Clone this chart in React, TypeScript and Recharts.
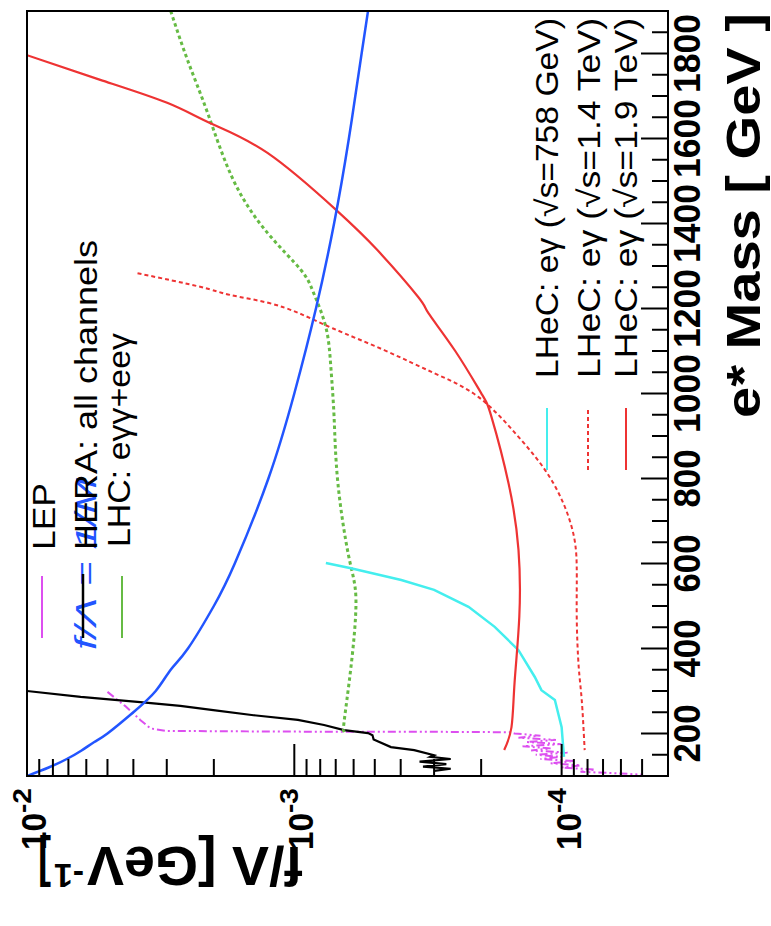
import React from 'react'
import { ScatterChart, Scatter, XAxis, YAxis } from 'recharts'

// values: e* mass [GeV] against the f/Λ limit [GeV^-1]
const lepMass = [298, 265, 232, 212, 206, 205, 204, 204, 203, 200, 195, 190, 185, 180, 175, 170, 165, 160, 155, 150, 145, 140, 135, 130, 125, 120, 115, 110, 106, 103]
const lepF = [5.0e-3, 4.3e-3, 3.77e-3, 3.45e-3, 3.0e-3, 1.5e-3, 7.0e-4, 3.0e-4, 1.55e-4, 1.5e-4, 1.2e-4, 1.45e-4, 1.05e-4, 1.35e-4, 1.0e-4, 1.4e-4, 1.1e-4, 1.3e-4, 9.5e-5, 1.25e-4, 1.0e-4, 1.2e-4, 9.0e-5, 1.1e-4, 8.5e-5, 1.0e-4, 7.5e-5, 8.5e-5, 6.0e-5, 5.0e-5]

const heraMass = [300, 286, 274, 265, 255, 243, 232, 220, 208, 201, 196, 186, 168, 161, 149, 145, 140, 134, 128, 122, 117, 112]
const heraF = [1.0e-2, 6.3e-3, 3.77e-3, 2.67e-3, 2.01e-3, 1.42e-3, 9.7e-4, 7.74e-4, 6.52e-4, 5.3e-4, 5.1e-4, 5.05e-4, 4.35e-4, 3.56e-4, 3.0e-4, 3.1e-4, 2.6e-4, 3.4e-4, 2.7e-4, 3.3e-4, 2.6e-4, 3.0e-4]

const oneOverMMass = [100, 120, 140, 160, 180, 200, 250, 300, 350, 400, 500, 600, 800, 1000, 1200, 1400, 1600, 1800, 1900]
const oneOverMF = [1.0e-2, 8.3e-3, 7.1e-3, 6.25e-3, 5.6e-3, 5.0e-3, 4.0e-3, 3.3e-3, 2.9e-3, 2.5e-3, 2.0e-3, 1.67e-3, 1.25e-3, 1.0e-3, 8.3e-4, 7.1e-4, 6.25e-4, 5.6e-4, 5.3e-4]

const lhcMass = [1900, 1785, 1660, 1502, 1378, 1291, 1236, 1156, 1062, 945, 789, 615, 514, 356, 225, 208]
const lhcF = [2.9e-3, 2.51e-3, 2.11e-3, 1.69e-3, 1.26e-3, 9.46e-4, 8.46e-4, 7.62e-4, 7.3e-4, 7.1e-4, 6.87e-4, 6.25e-4, 5.88e-4, 6.14e-4, 6.52e-4, 6.5e-4]

const lhec758Mass = [601, 589, 561, 538, 498, 451, 396, 333, 302, 279, 215, 145]
const lhec758F = [7.62e-4, 6.14e-4, 3.98e-4, 3.0e-4, 2.23e-4, 1.78e-4, 1.45e-4, 1.26e-4, 1.19e-4, 1.06e-4, 1.0e-4, 9.8e-5]

const lhec14Mass = [1283, 1251, 1232, 1214, 1188, 1153, 1102, 1048, 992, 898, 796, 686, 592, 474, 356, 279, 161]
const lhec14F = [3.86e-3, 2.25e-3, 1.74e-3, 1.265e-3, 9.53e-4, 7.16e-4, 4.61e-4, 3.0e-4, 2.05e-4, 1.45e-4, 1.09e-4, 9.17e-5, 8.78e-5, 8.78e-5, 8.63e-5, 8.41e-5, 8.2e-5]

const lhec19Mass = [1796, 1738, 1684, 1636, 1566, 1432, 1338, 1227, 1189, 1100, 1001, 945, 789, 632, 474, 319, 215, 161]
const lhec19F = [1.0e-2, 5.32e-3, 2.99e-3, 2.06e-3, 1.26e-3, 6.98e-4, 4.9e-4, 3.44e-4, 3.15e-4, 2.5e-4, 2.0e-4, 1.83e-4, 1.58e-4, 1.45e-4, 1.44e-4, 1.5e-4, 1.54e-4, 1.64e-4]

const massTicks = [150, 200, 250, 300, 350, 400, 450, 500, 550, 600, 650, 700, 750, 800, 850, 900, 950, 1000, 1050, 1100, 1150, 1200, 1250, 1300, 1350, 1400, 1450, 1500, 1550, 1600, 1650, 1700, 1750, 1800, 1850]
const fTicks = [1e-2, 9e-3, 8e-3, 7e-3, 6e-3, 5e-3, 4e-3, 3e-3, 2e-3, 1e-3, 9e-4, 8e-4, 7e-4, 6e-4, 5e-4, 4e-4, 3e-4, 2e-4, 1e-4, 9e-5, 8e-5, 7e-5, 6e-5, 5e-5]

// chart is drawn in its own (unrotated) frame, then turned a quarter left
const W = 926
const H = 771
const PLOT = { left: 150, right: 915, top: 27, bottom: 668 }
const FONT = '"Liberation Sans", Arial, Helvetica, sans-serif'

const COL = {
  lep: '#dd4ff0',
  hera: '#000000',
  oneOverM: '#2255ff',
  lhc: '#66bb44',
  cyan: '#44eeee',
  red: '#ee3333',
}

const pts = (ms: number[], fs: number[]) => ms.map((m, i) => ({ m, f: fs[i] }))
const noDot = () => <g />

function MassTick(props: any) {
  const x = props.payload?.coordinate ?? props.x
  const v = props.payload.value
  const major = v % 200 === 0
  return (
    <g>
      <line x1={x} x2={x} y1={PLOT.bottom} y2={PLOT.bottom - (major ? 27 : 16)} stroke="#000" strokeWidth={2} />
      {major && (
        <text
          x={x}
          y={700}
          textAnchor="middle"
          fontFamily={FONT}
          fontWeight="bold"
          fontSize={36}
          textLength={v >= 1000 ? 79 : 58}
          lengthAdjust="spacingAndGlyphs"
          fill="#000"
        >
          {v}
        </text>
      )}
    </g>
  )
}

function FTick(props: any) {
  const y = props.payload?.coordinate ?? props.y
  const v = props.payload.value
  const e = Math.round(Math.log10(v))
  const major = Math.abs(Math.log10(v) - e) < 1e-6
  return (
    <g>
      <line x1={PLOT.left} x2={PLOT.left + (major ? 32 : 17)} y1={y} y2={y} stroke="#000" strokeWidth={2} />
      {major && (
        <g fontFamily={FONT} fontWeight="bold" fill="#000">
          <text x={76} y={y + 19} fontSize={35} textLength={37} lengthAdjust="spacingAndGlyphs">10</text>
          <text x={113} y={y + 4} fontSize={26} textLength={25} lengthAdjust="spacingAndGlyphs">{e}</text>
        </g>
      )}
    </g>
  )
}

function Overlay() {
  const leg = { fontFamily: FONT, fontSize: 31, fill: '#000' }
  return (
    <svg width={W} height={H} style={{ position: 'absolute', left: 0, top: 0, pointerEvents: 'none' }}>
      <rect x={PLOT.left} y={PLOT.top} width={PLOT.right - PLOT.left} height={PLOT.bottom - PLOT.top} fill="none" stroke="#000" strokeWidth={2} />

      {/* left legend; the blue 1/M label sits underneath the HERA entry */}
      <line x1={288} x2={350} y1={42} y2={42} stroke={COL.lep} strokeWidth={2} />
      <line x1={288} x2={350} y1={122} y2={122} stroke={COL.lhc} strokeWidth={2} />
      <text x={276} y={96} fontFamily={FONT} fontSize={29} fontStyle="italic" fill={COL.oneOverM} textLength={172} lengthAdjust="spacingAndGlyphs">f/Λ = 1/M</text>
      <line x1={288} x2={352} y1={83} y2={83} stroke={COL.hera} strokeWidth={2.5} />
      <text x={376} y={55} {...leg} textLength={67} lengthAdjust="spacingAndGlyphs">LEP</text>
      <text x={376} y={97} {...leg} textLength={310} lengthAdjust="spacingAndGlyphs">HERA: all channels</text>
      <text x={379} y={130} {...leg} textLength={214} lengthAdjust="spacingAndGlyphs">LHC: eγγ+eeγ</text>

      {/* right legend */}
      <line x1={456} x2={518} y1={547} y2={547} stroke={COL.cyan} strokeWidth={2} />
      <line x1={456} x2={518} y1={588} y2={588} stroke={COL.red} strokeWidth={2} strokeDasharray="4 3" />
      <line x1={456} x2={518} y1={626} y2={626} stroke={COL.red} strokeWidth={2} />
      <text x={548} y={558} {...leg} textLength={360} lengthAdjust="spacingAndGlyphs">LHeC: eγ (√s=758 GeV)</text>
      <text x={548} y={600} {...leg} textLength={360} lengthAdjust="spacingAndGlyphs">LHeC: eγ (√s=1.4 TeV)</text>
      <text x={548} y={637} {...leg} textLength={360} lengthAdjust="spacingAndGlyphs">LHeC: eγ (√s=1.9 TeV)</text>

      {/* axis titles */}
      <text x={913} y={760} textAnchor="end" fontFamily={FONT} fontWeight="bold" fontSize={48} textLength={405} lengthAdjust="spacingAndGlyphs">
        e* Mass [ GeV ]
      </text>
      <g transform="rotate(-90)" fontFamily={FONT} fontWeight="bold" fill="#000">
        <text x={-303} y={79} fontSize={55} textLength={216} lengthAdjust="spacingAndGlyphs">f/Λ [GeV</text>
        <text x={-84} y={62} fontSize={34} textLength={30} lengthAdjust="spacingAndGlyphs">-1</text>
        <text x={-51} y={79} fontSize={55} textLength={13} lengthAdjust="spacingAndGlyphs">]</text>
      </g>
    </svg>
  )
}

export default function App() {
  const axisLine = { stroke: '#000', strokeWidth: 2 }
  return (
    <div style={{ position: 'fixed', left: 0, top: 0, width: H, height: W, background: '#fff', overflow: 'hidden' }}>
      <div
        style={{
          position: 'absolute',
          left: 0,
          top: 0,
          width: W,
          height: H,
          transformOrigin: '0 0',
          transform: `translateY(${W}px) rotate(-90deg)`,
        }}
      >
        <ScatterChart width={W} height={H} margin={{ top: PLOT.top, right: W - PLOT.right, bottom: 0, left: 0 }}>
          <XAxis
            type="number"
            dataKey="m"
            domain={[100, 1900]}
            ticks={massTicks}
            interval={0}
            allowDataOverflow
            tickLine={false}
            axisLine={axisLine}
            height={H - PLOT.bottom}
            tick={(p: any) => <MassTick {...p} />}
          />
          <YAxis
            type="number"
            dataKey="f"
            scale="log"
            domain={[4e-5, 1e-2]}
            ticks={fTicks}
            interval={0}
            allowDataOverflow
            tickLine={false}
            axisLine={axisLine}
            width={PLOT.left}
            tick={(p: any) => <FTick {...p} />}
          />
          <Scatter data={pts(lepMass, lepF)} shape={noDot} line={{ stroke: COL.lep, strokeWidth: 2, strokeDasharray: '8 3 2 3 2 3' }} lineType="joint" isAnimationActive={false} />
          <Scatter data={pts(heraMass, heraF)} shape={noDot} line={{ stroke: COL.hera, strokeWidth: 2.2 }} lineType="joint" isAnimationActive={false} />
          <Scatter data={pts(lhcMass, lhcF)} shape={noDot} line={{ stroke: COL.lhc, strokeWidth: 3, strokeDasharray: '3.5 3' }} lineType="joint" lineJointType="natural" isAnimationActive={false} />
          <Scatter data={pts(lhec758Mass, lhec758F)} shape={noDot} line={{ stroke: COL.cyan, strokeWidth: 2.5 }} lineType="joint" isAnimationActive={false} />
          <Scatter data={pts(lhec14Mass, lhec14F)} shape={noDot} line={{ stroke: COL.red, strokeWidth: 2, strokeDasharray: '4 3' }} lineType="joint" lineJointType="natural" isAnimationActive={false} />
          <Scatter data={pts(lhec19Mass, lhec19F)} shape={noDot} line={{ stroke: COL.red, strokeWidth: 2.2 }} lineType="joint" lineJointType="natural" isAnimationActive={false} />
          <Scatter data={pts(oneOverMMass, oneOverMF)} shape={noDot} line={{ stroke: COL.oneOverM, strokeWidth: 2.5 }} lineType="joint" lineJointType="natural" isAnimationActive={false} />
        </ScatterChart>
        <Overlay />
      </div>
    </div>
  )
}
